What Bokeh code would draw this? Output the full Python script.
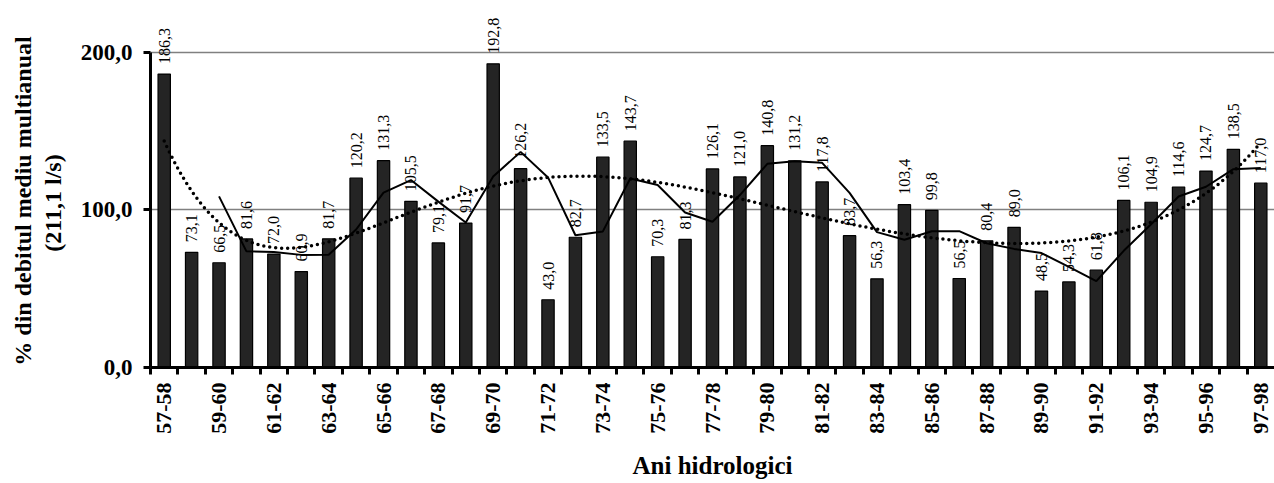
import numpy as np
from bokeh.plotting import figure
from bokeh.layouts import row
from bokeh.models import ColumnDataSource, LabelSet, FixedTicker, Range1d
from bokeh.core.properties import value
from bokeh.embed import file_html
from bokeh.resources import INLINE

years = ["57-58", "58-59", "59-60", "60-61", "61-62", "62-63", "63-64", "64-65",
         "65-66", "66-67", "67-68", "68-69", "69-70", "70-71", "71-72", "72-73",
         "73-74", "74-75", "75-76", "76-77", "77-78", "78-79", "79-80", "80-81",
         "81-82", "82-83", "83-84", "84-85", "85-86", "86-87", "87-88", "88-89",
         "89-90", "90-91", "91-92", "92-93", "93-94", "94-95", "95-96", "96-97",
         "97-98"]
values = [186.3, 73.1, 66.5, 81.6, 72.0, 60.9, 81.7, 120.2, 131.3, 105.5,
          79.1, 91.7, 192.8, 126.2, 43.0, 82.7, 133.5, 143.7, 70.3, 81.3,
          126.1, 121.0, 140.8, 131.2, 117.8, 83.7, 56.3, 103.4, 99.8, 56.5,
          80.4, 89.0, 48.5, 54.3, 61.8, 106.1, 104.9, 114.6, 124.7, 138.5,
          117.0]
y_ticks = [0, 100, 200]
y_tick_labels = ["0,0", "100,0", "200,0"]
y_title_lines = ["% din debitul mediu multianual", "(211,1 l/s)"]

FONT = "Liberation Serif"

xs = list(range(1, len(values) + 1))
labels = [f"{v:.1f}".replace(".", ",") for v in values]
src = ColumnDataSource(dict(x=xs, top=values, lab=labels))

# 3-year moving average (trend line of the chart)
ma_x = xs[2:]
ma_y = [(values[i - 2] + values[i - 1] + values[i]) / 3 for i in range(2, len(values))]

# polynomial trend line (order 6)
coef = np.polyfit(np.array(xs, dtype=float), np.array(values), 6)
px = np.linspace(1, len(values), 300)
py = np.polyval(coef, px)

# ---- y-axis title panel (pixel coordinates; its frame is aligned with the chart frame) ----
tp = figure(width=70, height=483, output_backend="svg", toolbar_location=None,
            x_range=Range1d(0, 70), y_range=Range1d(367, 0),
            min_border=0, outline_line_color=None)
tp.axis.visible = False
tp.grid.visible = False
tp.text(x=[22.5, 52.5], y=[200.5, 202.5], text=y_title_lines, angle=np.pi / 2,
        text_align="center", text_baseline="middle", text_font=value(FONT),
        text_font_style="bold", text_font_size="24px", text_color="black")

# ---- main chart ----
p = figure(width=1204, height=483, output_backend="svg", toolbar_location=None,
           x_range=Range1d(0.5, 41.5), y_range=Range1d(0, 233.0),
           min_border_left=80, min_border_right=0, min_border_top=0,
           min_border_bottom=116)
p.outline_line_color = None
p.background_fill_color = "white"

p.vbar(x="x", top="top", width=0.45, source=src, fill_color="#242424",
       line_color="black", line_width=1.2)
p.line(ma_x, ma_y, line_color="black", line_width=2)
p.line(px, py, line_color="black", line_width=3.5, line_dash="0 6", line_cap="round")

ls = LabelSet(x="x", y="top", text="lab", source=src, angle=np.pi / 2,
              text_align="left", text_baseline="middle", y_offset=10,
              text_font=FONT, text_font_size="16px", text_color="black")
p.add_layout(ls)

# x axis
p.xaxis.ticker = FixedTicker(ticks=xs[::2], minor_ticks=[x - 0.5 for x in xs])
p.xaxis.major_label_overrides = {x: years[x - 1] for x in xs[::2]}
p.xaxis.major_label_orientation = np.pi / 2
p.xaxis.major_tick_line_color = None
p.xaxis.major_tick_out = 7
p.xaxis.major_tick_in = 0
p.xaxis.minor_tick_out = 7
p.xaxis.minor_tick_in = 0
p.xaxis.minor_tick_line_width = 3
p.xaxis.minor_tick_line_color = "black"
p.xaxis.axis_line_width = 3
p.xaxis.axis_line_color = "black"
p.xaxis.major_label_standoff = 8
p.xaxis.major_label_text_font = FONT
p.xaxis.major_label_text_font_style = "bold"
p.xaxis.major_label_text_font_size = "22px"
p.xaxis.major_label_text_color = "black"
p.xaxis.axis_label = "Ani hidrologici"
p.xaxis.axis_label_text_font = FONT
p.xaxis.axis_label_text_font_style = "bold"
p.xaxis.axis_label_text_font_size = "25px"
p.xaxis.axis_label_text_color = "black"
p.xaxis.axis_label_standoff = 15

# y axis
p.yaxis.ticker = FixedTicker(ticks=y_ticks)
p.yaxis.major_label_overrides = dict(zip(y_ticks, y_tick_labels))
p.yaxis.bounds = (0, 200)
p.yaxis.axis_line_width = 3
p.yaxis.axis_line_color = "black"
p.yaxis.major_tick_out = 7
p.yaxis.major_tick_in = 0
p.yaxis.major_tick_line_width = 3
p.yaxis.major_tick_line_color = "black"
p.yaxis.minor_tick_line_color = None
p.yaxis.major_label_standoff = 11
p.yaxis.major_label_text_font = FONT
p.yaxis.major_label_text_font_style = "bold"
p.yaxis.major_label_text_font_size = "23px"
p.yaxis.major_label_text_color = "black"

p.xgrid.grid_line_color = None
p.ygrid.ticker = FixedTicker(ticks=[100, 200])
p.ygrid.grid_line_color = "#808080"
p.ygrid.grid_line_width = 1.5

layout = row(tp, p, spacing=0)
open("out.html", "w").write(file_html(layout, INLINE))
